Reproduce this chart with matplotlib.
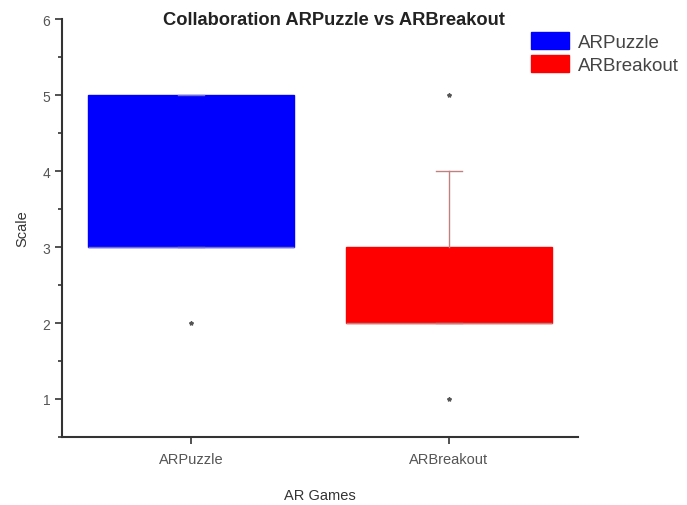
import matplotlib.pyplot as plt
from matplotlib.patches import Patch
from matplotlib.ticker import MultipleLocator

plt.rcParams['font.family'] = ['Liberation Sans', 'DejaVu Sans']

games = ['ARPuzzle', 'ARBreakout']
colors = ['#0000ff', '#ff0000']
whisker_colors = ['#7070d0', '#c08080']
q1 = [3, 2]
q3 = [5, 3]
medians = [3, 2]
whis_lo = [3, 2]
whis_hi = [5, 4]
outliers = [[2], [5, 1]]


def main():
    fig = plt.figure(figsize=(6.87, 5.06), dpi=100)
    ax = fig.add_axes([0.0902, 0.1344, 0.751, 0.826])

    stats = []
    for i, g in enumerate(games):
        stats.append({'label': g, 'q1': q1[i], 'q3': q3[i], 'med': medians[i],
                      'whislo': whis_lo[i], 'whishi': whis_hi[i],
                      'fliers': outliers[i]})

    for i, s in enumerate(stats):
        ax.bxp([s], positions=[i + 1], widths=0.8, patch_artist=True,
               boxprops=dict(facecolor=colors[i], edgecolor=colors[i], linewidth=1),
               medianprops=dict(color=whisker_colors[i], linewidth=1),
               whiskerprops=dict(color=whisker_colors[i], linewidth=1),
               capprops=dict(color=whisker_colors[i], linewidth=1),
               capwidths=0.1,
               flierprops=dict(marker='*', markersize=3, markerfacecolor='#555555',
                               markeredgecolor='#555555'))

    ax.set_xlim(0.5, 2.5)
    ax.set_ylim(0.5, 6)
    ax.set_xticks([1, 2])
    ax.set_xticklabels(games)
    ax.yaxis.set_major_locator(MultipleLocator(1))
    ax.yaxis.set_minor_locator(MultipleLocator(0.5))
    ax.set_yticks([1, 2, 3, 4, 5, 6])

    for sp in ['top', 'right']:
        ax.spines[sp].set_visible(False)
    for sp in ['left', 'bottom']:
        ax.spines[sp].set_linewidth(1.5)
        ax.spines[sp].set_color('#333333')
    ax.tick_params(axis='both', which='major', direction='out', length=5,
                   width=1.2, color='#333333', labelsize=10, labelcolor='#555555')
    ax.tick_params(axis='x', which='major', labelsize=10.5, pad=6)
    ax.tick_params(axis='y', which='minor', direction='out', length=3,
                   width=1.2, color='#333333')

    fig.text(0.4855, 0.960, 'Collaboration ARPuzzle vs ARBreakout', fontsize=13.2,
             fontweight='bold', color='#222222', ha='center', va='center')
    ax.set_xlabel('AR Games', fontsize=10.5, color='#333333', labelpad=16)
    ax.set_ylabel('Scale', fontsize=10.5, color='#333333', labelpad=9)

    handles = [Patch(facecolor=c, edgecolor=c, label=g) for g, c in zip(games, colors)]
    fig.legend(handles=handles, loc='upper left', bbox_to_anchor=(0.773, 0.934),
               frameon=False, fontsize=13.5, handlelength=2.05, handleheight=1.0,
               handletextpad=0.45, labelspacing=0.22, borderpad=0, borderaxespad=0,
               labelcolor='#444444')

    fig.savefig('out.png', dpi=100)


if __name__ == '__main__':
    main()
